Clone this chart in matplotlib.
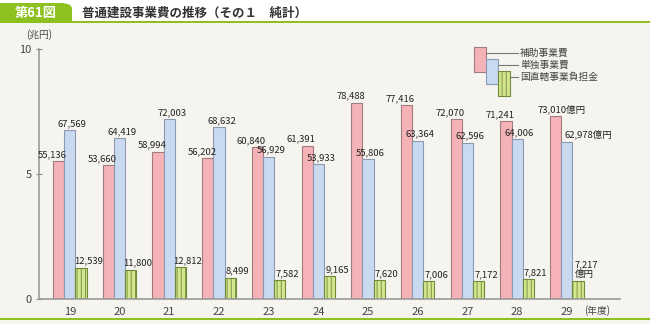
import matplotlib.pyplot as plt
from matplotlib.patches import Rectangle, FancyBboxPatch
import numpy as np

plt.rcParams['font.family'] = ['Noto Sans CJK JP', 'DejaVu Sans']

# データ（億円）
years = ['19', '20', '21', '22', '23', '24', '25', '26', '27', '28', '29']
hojo = [55136, 53660, 58994, 56202, 60840, 61391, 78488, 77416, 72070, 71241, 73010]
tandoku = [67569, 64419, 72003, 68632, 56929, 53933, 55806, 63364, 62596, 64006, 62978]
chokkatsu = [12539, 11800, 12812, 8499, 7582, 9165, 7620, 7006, 7172, 7821, 7217]
series_names = ['補助事業費', '単独事業費', '国直轄事業負担金']

W, H = 650, 324
BG = '#f6f4ef'
GREEN = '#8cc11f'
PINK, PINK_E = '#f5b3b7', '#a07c80'
BLUE, BLUE_E = '#c9d9f0', '#8a9ab5'
LGRN, LGRN_E = '#d4e68e', '#6f8a3a'


def px(x, y):
    return x / W, 1 - y / H


fig = plt.figure(figsize=(6.5, 3.24), dpi=100)
fig.patch.set_facecolor(BG)

# ヘッダー
fig.add_artist(Rectangle(px(0, 23), 1, 23 / H, transform=fig.transFigure,
                         facecolor='white', edgecolor='none', zorder=0))
fig.add_artist(FancyBboxPatch(px(0, 22), 72 / W, 19 / H, transform=fig.transFigure,
                              boxstyle='round,pad=0,rounding_size=0.018',
                              facecolor=GREEN, edgecolor='none', zorder=1))
# 右上以外の角を四角に
fig.add_artist(Rectangle(px(0, 22), 40 / W, 19 / H, transform=fig.transFigure,
                         facecolor=GREEN, edgecolor='none', zorder=1))
fig.add_artist(Rectangle(px(0, 23), 72 / W, 10 / H, transform=fig.transFigure,
                         facecolor=GREEN, edgecolor='none', zorder=1))
fig.add_artist(Rectangle(px(0, 23), 1, 1.5 / H, transform=fig.transFigure,
                         facecolor=GREEN, edgecolor='none', zorder=1))
fig.text(*px(36, 13), '第61図', color='white', fontsize=9.5, fontweight='bold',
         ha='center', va='center', zorder=2)
fig.text(*px(82, 13), '普通建設事業費の推移（その１　純計）', color='#333333',
         fontsize=9, fontweight='bold', ha='left', va='center')
# 下線
fig.add_artist(Rectangle(px(0, 320), 1, 2 / H, transform=fig.transFigure,
                         facecolor=GREEN, edgecolor='none', zorder=1))

ax = fig.add_axes([39 / W, 1 - 299 / H, (620 - 39) / W, 250 / H])
ax.set_facecolor(BG)

x = np.arange(len(years))
w = 0.225
to_cho = lambda v: np.array(v) / 10000

ax.bar(x - w, to_cho(hojo), w, color=PINK, edgecolor=PINK_E, linewidth=0.8, zorder=2)
ax.bar(x, to_cho(tandoku), w, color=BLUE, edgecolor=BLUE_E, linewidth=0.8, zorder=2)
plt.rcParams['hatch.color'] = '#a9c45a'
plt.rcParams['hatch.linewidth'] = 0.6
ax.bar(x + w, to_cho(chokkatsu), w, color=LGRN, edgecolor=LGRN_E, linewidth=0.8,
       hatch='||||', zorder=2)

ax.set_xlim(-0.62, 11.07)
ax.set_ylim(0, 10)
ax.set_yticks([0, 5, 10])
ax.set_yticklabels(['0', '5', '10'])
ax.set_xticks(x)
ax.set_xticklabels(years)
ax.tick_params(axis='y', direction='inout', length=5, width=0.8, color='#888888',
               labelsize=8, labelcolor='#444444', pad=3)
ax.tick_params(axis='x', length=0, labelsize=8, labelcolor='#444444', pad=6)
for s in ['top', 'right']:
    ax.spines[s].set_visible(False)
for s in ['left', 'bottom']:
    ax.spines[s].set_color('#9a9a9a')
    ax.spines[s].set_linewidth(1.2)

# 数値ラベル
lab = dict(fontsize=6.8, color='#222222', va='bottom')
n = len(years)
for i in range(n):
    last = i == n - 1
    yh, yt, yc = hojo[i] / 10000 + 0.08, tandoku[i] / 10000 + 0.08, chokkatsu[i] / 10000 + 0.08
    if last:
        ax.text(x[i] - w - 0.36, yh, f'{hojo[i]:,}億円', ha='left', **lab)
        ax.text(x[i] - 0.04, yt, f'{tandoku[i]:,}億円', ha='left', **lab)
        ax.text(x[i] + w - 0.06, yc, f'{chokkatsu[i]:,}\n億円', ha='left',
                linespacing=1.1, **lab)
    else:
        ax.text(x[i] - w - 0.12, yh, f'{hojo[i]:,}', ha='center', **lab)
        ax.text(x[i] + 0.05, yt, f'{tandoku[i]:,}', ha='center', **lab)
        ax.text(x[i] + w + 0.15, yc, f'{chokkatsu[i]:,}', ha='center', **lab)

fig.text(*px(39, 35), '(兆円)', fontsize=7, color='#444444', ha='center', va='center')
fig.text(*px(584, 311), '(年度)', fontsize=7, color='#444444', ha='left', va='center')

# 凡例
boxes = [(474, 47, PINK, PINK_E, None), (486, 59, BLUE, BLUE_E, None),
         (498, 71, LGRN, LGRN_E, '||||')]
for k, (bx, by, fc, ec, hh) in enumerate(boxes):
    fig.add_artist(Rectangle(px(bx, by + 25), 12 / W, 25 / H, transform=fig.transFigure,
                             facecolor=fc, edgecolor=ec, linewidth=0.8, hatch=hh, zorder=3 + k))
    ly = by + 6
    fig.add_artist(plt.Line2D([(bx + 12) / W, 518 / W], [1 - ly / H, 1 - ly / H],
                              transform=fig.transFigure, color='#777777', linewidth=0.8))
    fig.text(*px(520, ly), series_names[k], fontsize=7, color='#444444',
             ha='left', va='center')

fig.savefig('out.png', dpi=100, facecolor=BG)
